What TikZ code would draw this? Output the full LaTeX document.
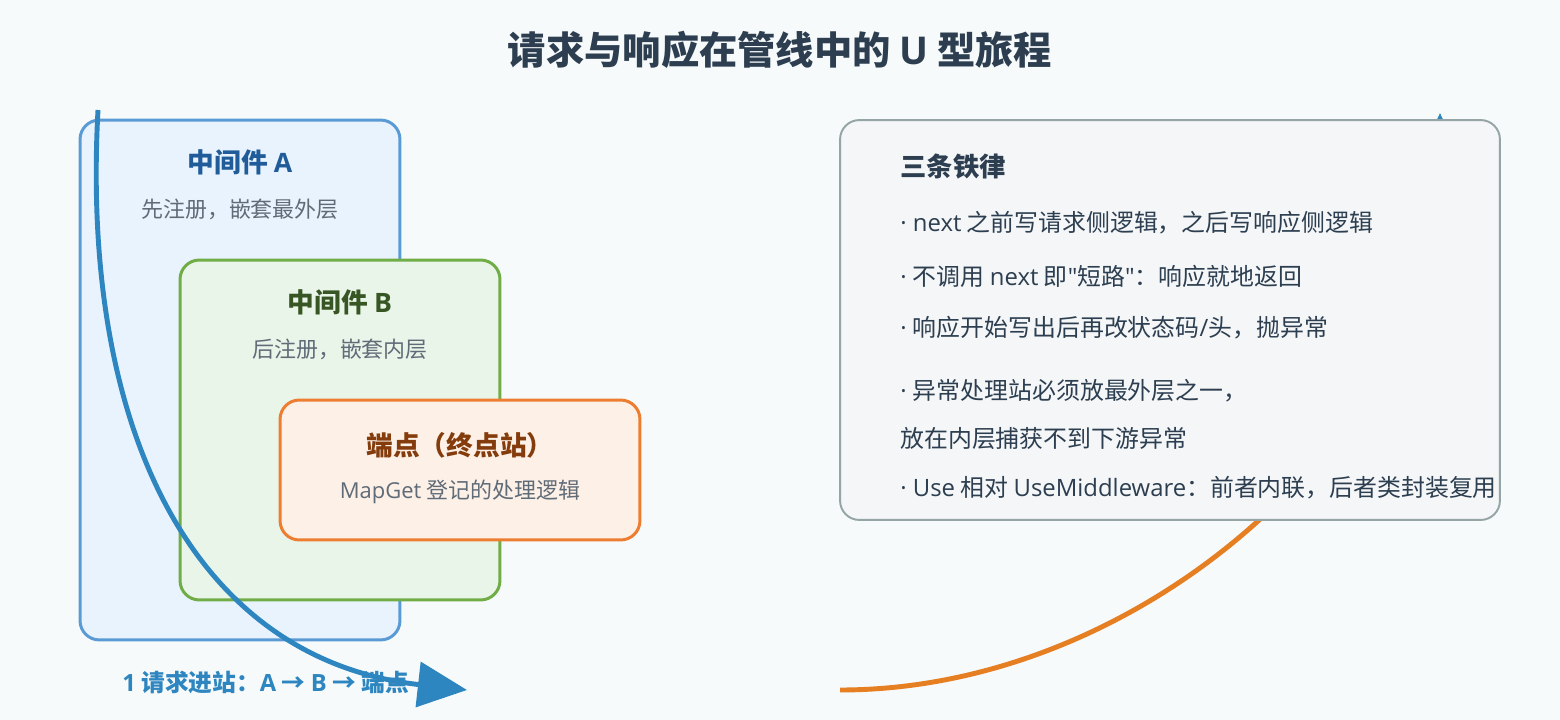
\documentclass[tikz,border=0pt]{standalone}
\usepackage{fontspec}
\setmainfont{Noto Sans CJK SC}[Ligatures=TeXOff]
\newfontfamily\latinfont{Open Sans}[Ligatures=TeXOff]
\usepackage{xcolor}
\usetikzlibrary{positioning,arrows.meta}
\definecolor{bgcol}{HTML}{F7FAFA}
\definecolor{ink}{HTML}{2C3E50}
\definecolor{subgray}{HTML}{5F6B77}
\definecolor{blueA}{HTML}{5B9BD5}
\definecolor{blueF}{HTML}{E8F3FD}
\definecolor{blueH}{HTML}{1F5C99}
\definecolor{greenB}{HTML}{70AD47}
\definecolor{greenF}{HTML}{EAF5EA}
\definecolor{greenH}{HTML}{375623}
\definecolor{orangeB}{HTML}{ED7D31}
\definecolor{orangeF}{HTML}{FDF0E7}
\definecolor{orangeH}{HTML}{843C0C}
\definecolor{panelB}{HTML}{95A5A6}
\definecolor{panelF}{HTML}{F4F6F7}
\definecolor{flowblue}{HTML}{2E86C1}
\definecolor{floworange}{HTML}{E67E22}
\newcommand{\lat}[1]{{\latinfont #1}}
\newcommand{\dotmark}{{\latinfont ·\ }}

\begin{document}
\begin{tikzpicture}[
    x=0.02cm, y=-0.02cm,
    node distance=0.94cm,
    layer/.style={rectangle, rounded corners=11pt, line width=1.7pt, minimum width=6.4cm, inner sep=0pt},
    head/.style={font=\bfseries\fontsize{15.2}{17}\selectfont},
    note/.style={font=\fontsize{12.5}{14}\selectfont, text=subgray},
    law/.style={anchor=west, inner sep=0pt, text=ink, font=\fontsize{13.6}{15}\selectfont},
    flow/.style={line width=2.8pt, -{Triangle[length=28pt, width=25.5pt]}}
]
    \fill[bgcol] (0,0) rectangle (1560,720);
    \useasboundingbox (0,0) rectangle (1560,720);

    \node[font=\bfseries\fontsize{21.8}{25}\selectfont, text=ink] (title) at (780,50) {请求与响应在管线中的 \lat{U} 型旅程};

    % nested layers
    \node[layer, draw=blueA, fill=blueF, minimum height=10.4cm] (outer) at (240,380) {};
    \node[head, text=blueH] (headA) at (240,162) {中间件 \lat{A}};
    \node[note, below of=headA] (noteA) {先注册，嵌套最外层};

    \node[layer, draw=greenB, fill=greenF, minimum height=6.8cm] (inner) at (340,430) {};
    \node[head, text=greenH] (headB) at (340,302) {中间件 \lat{B}};
    \node[note, below of=headB] (noteB) {后注册，嵌套内层};

    \node[layer, draw=orangeB, fill=orangeF, minimum width=7.2cm, minimum height=2.8cm] (endpoint) at (460,470) {};
    \node[head, text=orangeH] (headE) at (460,445) {端点（终点站）};
    \node[note, below of=headE] (noteE) {\lat{MapGet} 登记的处理逻辑};

    \node[anchor=west, inner sep=0pt, text=flowblue, font=\bfseries\fontsize{13.5}{15}\selectfont] (inlabel) at (122,682) {\lat{1} 请求进站：\lat{A} → \lat{B} → 端点};

    % response path, behind the panel
    \coordinate (outStart) at (840,690);
    \coordinate (outEnd) at (1440,113);
    \draw[line width=2.8pt, floworange, -{Triangle[length=28pt, width=25.5pt, color=flowblue]}] (outStart) .. controls (1150,690) and (1440,420) .. (outEnd);

    % rules panel
    \node[rectangle, rounded corners=11pt, draw=panelB, fill=panelF, line width=1.1pt, minimum width=13.2cm, minimum height=8cm] (rules) at (1170,320) {};
    \node[law, font=\bfseries\fontsize{15}{17}\selectfont] (lawhead) at (900,167) {三条铁律};
    \node[law] (law1) at (900,223) {\dotmark\lat{next} 之前写请求侧逻辑，之后写响应侧逻辑};
    \node[law] (law2) at (900,276) {\dotmark 不调用 \lat{next} 即\lat{"}短路\lat{"}：响应就地返回};
    \node[law] (law3) at (900,328) {\dotmark 响应开始写出后再改状态码\lat{/}头，抛异常};
    \node[law] (law4) at (900,391) {\dotmark 异常处理站必须放最外层之一，};
    \node[law] (law5) at (900,439) {放在内层捕获不到下游异常};
    \node[law] (law6) at (900,488) {\dotmark\lat{Use} 相对 \lat{UseMiddleware}：前者内联，后者类封装复用};

    % request path
    \coordinate (inStart) at (98,110);
    \coordinate (inEnd) at (467,690);
    \draw[flow, flowblue] (inStart) .. controls (80,440) and (200,660) .. (inEnd);
\end{tikzpicture}
\end{document}
